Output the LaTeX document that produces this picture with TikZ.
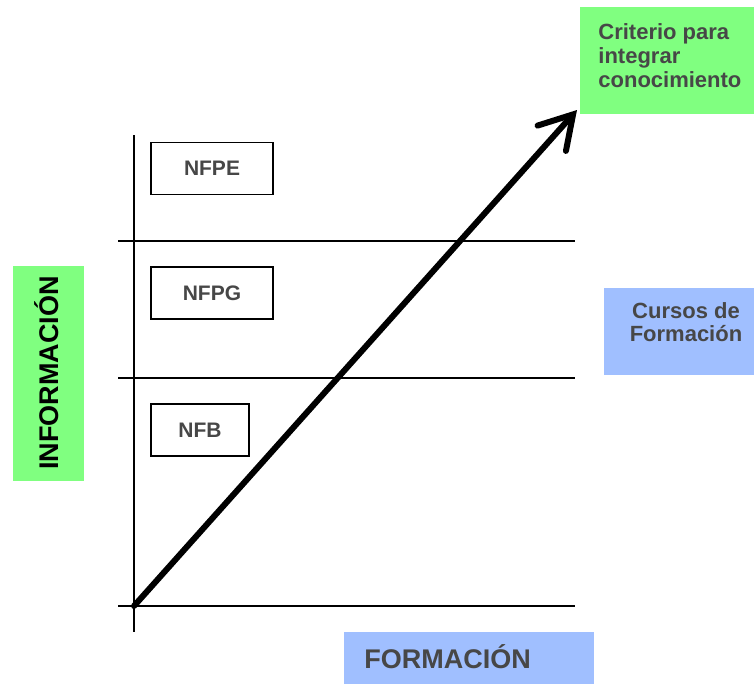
\documentclass[tikz,border=0pt]{standalone}
\usepackage{fontspec}
\setmainfont{Liberation Sans}
\usetikzlibrary{arrows.meta}
\definecolor{verde}{HTML}{80FF80}
\definecolor{azul}{HTML}{A0BFFF}
\definecolor{gristexto}{HTML}{474747}
\tikzset{
  nivel/.style={draw,line width=0.9pt,fill=white,minimum width=61pt,minimum height=26pt,font=\fontsize{10.5}{12}\selectfont\bfseries,text=gristexto,inner sep=0pt},
  eje/.style={line width=1pt},
  caja/.style={inner sep=0pt,font=\bfseries,text=gristexto}
}
\begin{document}
\begin{tikzpicture}[x=0.5pt,y=-0.5pt]
			\useasboundingbox (0,0) rectangle (754,685);
			% ejes y niveles
			\coordinate (o) at (134,606);
			\draw[eje](134,135)--(134,632);
			\draw[eje](118,241)--(575,241);
			\draw[eje](118,378)--(575,378);
			\draw[eje](118,606)--(575,606);
			\node[nivel] (nfpe) at(212,168.5){NFPE};
			\node[nivel] (nfpg) at(212,293){NFPG};
			\node[nivel,minimum width=49pt] (nfb) at(200,430){NFB};
			% cajas de color
			\fill[verde](580,7) rectangle (754,114);
			\node[caja,align=left,anchor=north west,font=\fontsize{11}{12}\selectfont\bfseries] (crit) at(598,23){Criterio para\\integrar\\conocimiento};
			\coordinate (tip) at(577,110);
			\fill[verde](13,266) rectangle (84,481);
			\node[caja,rotate=90,text=black,font=\fontsize{13.5}{15}\selectfont\bfseries] (info) at(47,373){INFORMACIÓN};
			\fill[azul](604,288) rectangle (754,375);
			\node[caja,align=center,font=\fontsize{11}{11.5}\selectfont\bfseries] (cursos) at(686,322){Cursos de\\Formación};
			\fill[azul](344,632) rectangle (594,684);
			\node[caja,anchor=west,font=\fontsize{13.5}{15}\selectfont\bfseries] (form) at(364,657){FORMACIÓN};
			% flecha
			\draw[line width=3pt,line cap=round,-{Straight Barb[length=16pt,width=19pt,line cap=round]}](o)--(tip);
			\end{tikzpicture}
\end{document}
